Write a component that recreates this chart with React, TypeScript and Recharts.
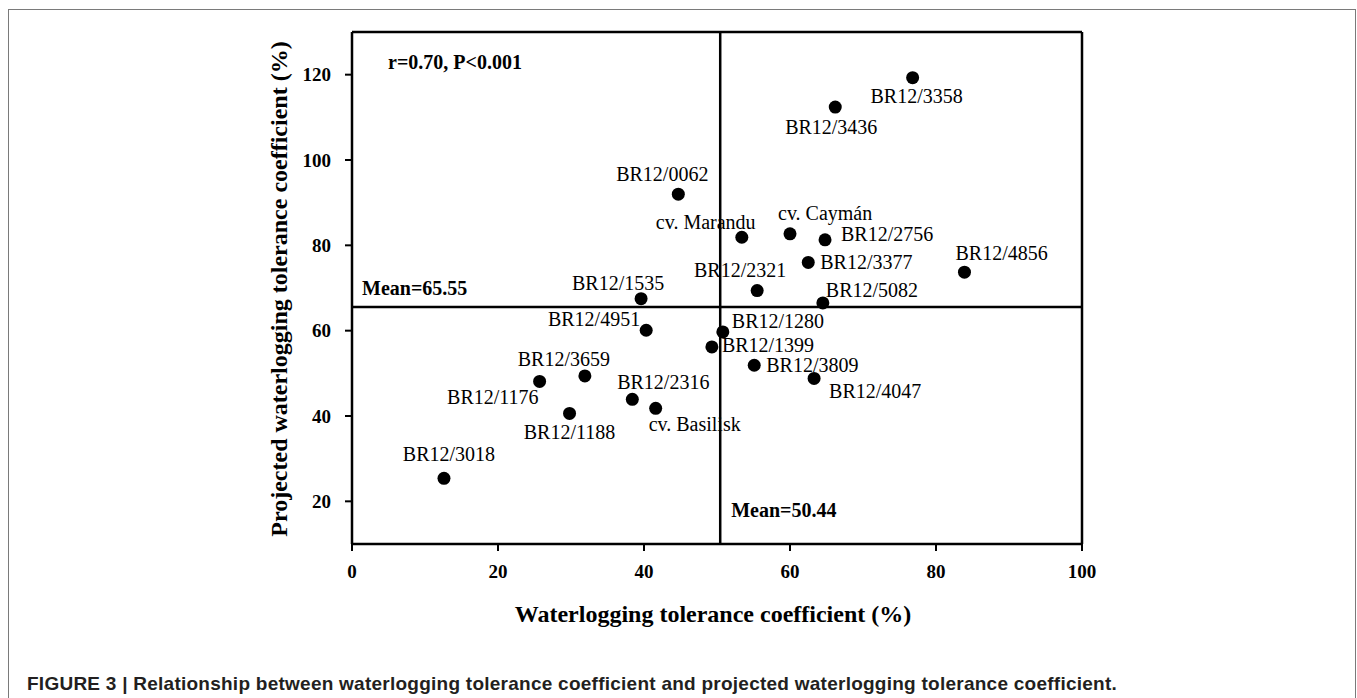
import React from "react";
import {
  ScatterChart,
  Scatter,
  XAxis,
  YAxis,
  ReferenceLine,
} from "recharts";

const accessions = [
  "BR12/3358", "BR12/3436", "BR12/0062", "cv. Marandu", "cv. Caymán",
  "BR12/2756", "BR12/3377", "BR12/4856", "BR12/2321", "BR12/5082",
  "BR12/1535", "BR12/4951", "BR12/1280", "BR12/1399", "BR12/3809",
  "BR12/4047", "BR12/3659", "BR12/1176", "BR12/1188", "BR12/2316",
  "cv. Basilisk", "BR12/3018",
];
const wtc = [
  76.8, 66.2, 44.7, 53.4, 60.0,
  64.8, 62.5, 83.9, 55.5, 64.5,
  39.6, 40.3, 50.8, 49.3, 55.1,
  63.3, 31.9, 25.7, 29.8, 38.4,
  41.6, 12.6,
];
const pwtc = [
  119.3, 112.4, 92.0, 81.9, 82.7,
  81.3, 76.0, 73.7, 69.4, 66.5,
  67.5, 60.1, 59.7, 56.2, 51.9,
  48.8, 49.4, 48.1, 40.6, 43.9,
  41.8, 25.4,
];
const xTicks = [0, 20, 40, 60, 80, 100];
const yTicks = [20, 40, 60, 80, 100, 120];
const meanX = 50.44;
const meanY = 65.55;
const statsText = "r=0.70, P<0.001";

const data = accessions.map((name, i) => ({ name, x: wtc[i], y: pwtc[i] }));

// where each point's name sits relative to the dot (anchor, dx, baseline dy)
const LABEL_POS: Record<string, [string, number, number]> = {
  "BR12/3358": ["middle", 4, 25],
  "BR12/3436": ["middle", -4, 27],
  "BR12/0062": ["middle", -16, -13],
  "cv. Marandu": ["start", -86, -8],
  "cv. Caymán": ["start", -12, -14],
  "BR12/2756": ["start", 16, 1],
  "BR12/3377": ["start", 12, 7],
  "BR12/4856": ["start", -9, -12],
  "BR12/2321": ["middle", -17, -14],
  "BR12/5082": ["start", 3, -6],
  "BR12/1535": ["middle", -23, -9],
  "BR12/4951": ["end", -6, -4],
  "BR12/1280": ["start", 9, -4],
  "BR12/1399": ["start", 10, 5],
  "BR12/3809": ["start", 12, 7],
  "BR12/4047": ["start", 15, 20],
  "BR12/3659": ["middle", -21, -10],
  "BR12/1176": ["end", -1, 23],
  "BR12/1188": ["middle", 0, 26],
  "BR12/2316": ["middle", 31, -10],
  "cv. Basilisk": ["start", -7, 23],
  "BR12/3018": ["middle", 5, -17],
};

const SERIF = '"Liberation Serif", "Times New Roman", serif';

// eslint-disable-next-line @typescript-eslint/no-explicit-any
const Dot = (props: any) => {
  const { cx, cy, payload } = props;
  const [anchor, dx, dy] = LABEL_POS[payload.name] || ["start", 8, 0];
  return (
    <g>
      <circle cx={cx} cy={cy} r={6.5} fill="#000" />
      <text
        x={cx + dx}
        y={cy + dy}
        textAnchor={anchor}
        fontFamily={SERIF}
        fontSize={20}
        fill="#000"
      >
        {payload.name}
      </text>
    </g>
  );
};

const boldText = {
  fontFamily: SERIF,
  fontWeight: 700,
  fill: "#000",
};

export default function App() {
  return (
    <div
      style={{
        position: "fixed",
        left: 0,
        top: 0,
        width: 1357,
        height: 698,
        background: "#fff",
        overflow: "hidden",
      }}
    >
      <div
        style={{
          position: "absolute",
          left: 8,
          top: 9,
          width: 1348,
          height: 720,
          border: "1px solid #7a7a7a",
          boxSizing: "border-box",
        }}
      />
      <div style={{ position: "absolute", left: 0, top: 0 }}>
        <ScatterChart
          width={1357}
          height={698}
          margin={{ top: 32, right: 275, bottom: 114, left: 292 }}
        >
          <XAxis
            type="number"
            dataKey="x"
            domain={[0, 100]}
            ticks={xTicks}
            tickSize={7}
            tickMargin={14}
            height={40}
            axisLine={{ stroke: "#000", strokeWidth: 2.5 }}
            tickLine={{ stroke: "#000", strokeWidth: 2 }}
            tick={{ ...boldText, fontSize: 19 }}
            label={{
              content: () => (
                <text x={713} y={622} textAnchor="middle" {...boldText} fontSize={24}>
                  Waterlogging tolerance coefficient (%)
                </text>
              ),
            }}
          />
          <YAxis
            type="number"
            dataKey="y"
            domain={[10, 130]}
            ticks={yTicks}
            tickSize={7}
            tickMargin={14}
            width={60}
            axisLine={{ stroke: "#000", strokeWidth: 2.5 }}
            tickLine={{ stroke: "#000", strokeWidth: 2 }}
            tick={{ ...boldText, fontSize: 19 }}
            label={{
              content: () => (
                <text
                  x={287}
                  y={289}
                  transform="rotate(-90, 287, 289)"
                  textAnchor="middle"
                  {...boldText}
                  fontSize={24}
                >
                  Projected waterlogging tolerance coefficient (%)
                </text>
              ),
            }}
          />
          <ReferenceLine
            y={130}
            stroke="#000"
            strokeWidth={2.5}
            label={{
              // eslint-disable-next-line @typescript-eslint/no-explicit-any
              content: ({ viewBox }: any) => (
                <text x={viewBox.x + 36} y={viewBox.y + 37} {...boldText} fontSize={20}>
                  {statsText}
                </text>
              ),
            }}
          />
          <ReferenceLine x={100} stroke="#000" strokeWidth={2.5} />
          <ReferenceLine
            y={meanY}
            stroke="#000"
            strokeWidth={2.5}
            label={{
              // eslint-disable-next-line @typescript-eslint/no-explicit-any
              content: ({ viewBox }: any) => (
                <text x={viewBox.x + 10} y={viewBox.y - 12} {...boldText} fontSize={20}>
                  {`Mean=${meanY}`}
                </text>
              ),
            }}
          />
          <ReferenceLine
            x={meanX}
            stroke="#000"
            strokeWidth={2.5}
            label={{
              // eslint-disable-next-line @typescript-eslint/no-explicit-any
              content: ({ viewBox }: any) => (
                <text
                  x={viewBox.x + 11}
                  y={viewBox.y + viewBox.height - 27}
                  {...boldText}
                  fontSize={20}
                >
                  {`Mean=${meanX}`}
                </text>
              ),
            }}
          />
          <Scatter data={data} shape={Dot} isAnimationActive={false} />
        </ScatterChart>
      </div>
      <div
        style={{
          position: "absolute",
          left: 27,
          top: 674,
          fontFamily: '"Liberation Sans", Arial, sans-serif',
          fontWeight: 700,
          fontSize: 19,
          letterSpacing: 0.25,
          lineHeight: "19px",
          color: "#231f20",
          whiteSpace: "nowrap",
        }}
      >
        FIGURE 3 | Relationship between waterlogging tolerance coefficient and projected waterlogging tolerance coefficient.
      </div>
    </div>
  );
}
